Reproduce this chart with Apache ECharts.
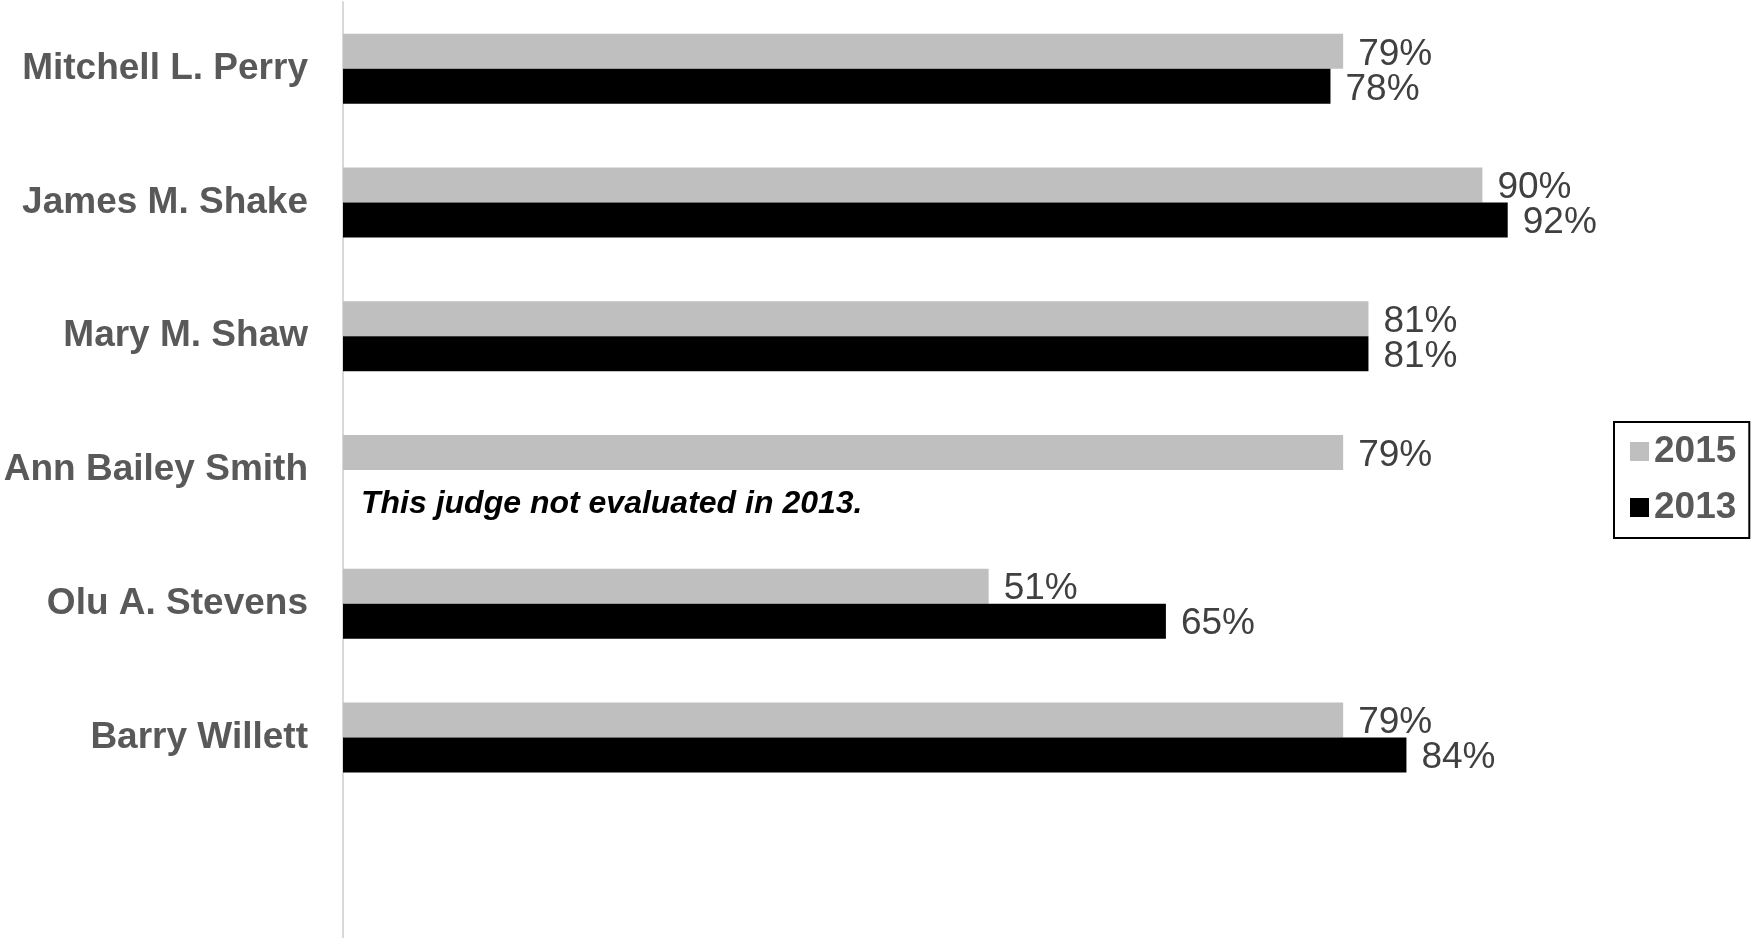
<!DOCTYPE html>
<html>
<head>
<meta charset="utf-8">
<script src="https://cdn.jsdelivr.net/npm/echarts@6/dist/echarts.min.js"></script>
<style>
html,body{margin:0;padding:0;background:#fff;}
#chart{width:1752px;height:938px;}
</style>
</head>
<body>
<div id="chart"></div>
<script>
const categories = ['Mitchell L. Perry', 'James M. Shake', 'Mary M. Shaw', 'Ann Bailey Smith', 'Olu A. Stevens', 'Barry Willett', ''];
const values2015 = [79, 90, 81, 79, 51, 79, null];
const values2013 = [78, 92, 81, null, 65, 84, null];
const seriesNames = ['2015', '2013'];
const note = 'This judge not evaluated in 2013.';

const chart = echarts.init(document.getElementById('chart'));
const font = "'Liberation Sans', Arial, sans-serif";
const labelCfg = {
  show: true,
  position: 'right',
  distance: 15,
  offset: [0, 3],
  fontSize: 37,
  fontFamily: font,
  color: '#404040',
  formatter: p => (p.value == null ? '' : p.value + '%')
};
chart.setOption({
  backgroundColor: '#ffffff',
  animation: false,
  grid: { left: 343, right: 143, top: 2, bottom: 0, containLabel: false },
  xAxis: { type: 'value', min: 0, max: 100, show: false },
  yAxis: {
    type: 'category',
    data: categories,
    inverse: true,
    axisLine: { show: true, lineStyle: { color: '#d9d9d9', width: 2 } },
    axisTick: { show: false },
    splitLine: { show: false },
    axisLabel: {
      margin: 35,
      fontSize: 37,
      fontWeight: 'bold',
      fontFamily: font,
      color: '#595959',
      padding: [10, 0, 0, 0]
    }
  },
  legend: {
    orient: 'vertical',
    left: 1614,
    top: 422,
    data: seriesNames,
    itemWidth: 19,
    itemHeight: 19,
    itemGap: 19,
    padding: [11, 13, 12, 16],
    borderColor: '#000',
    borderWidth: 2,
    icon: 'rect',
    textStyle: { fontSize: 37, fontWeight: 'bold', fontFamily: font, color: '#595959', lineHeight: 37 }
  },
  series: [
    { name: seriesNames[0], type: 'bar', data: values2015, barWidth: 35, barGap: '0%',
      itemStyle: { color: '#bfbfbf' }, label: labelCfg },
    { name: seriesNames[1], type: 'bar', data: values2013, barWidth: 35, barGap: '0%',
      itemStyle: { color: '#000000' }, label: labelCfg }
  ],
  graphic: [{
    type: 'text',
    left: 361,
    top: 488,
    style: {
      text: note,
      font: "italic bold 32px 'Liberation Sans', Arial, sans-serif",
      fill: '#000000'
    }
  }]
});
</script>
</body>
</html>
